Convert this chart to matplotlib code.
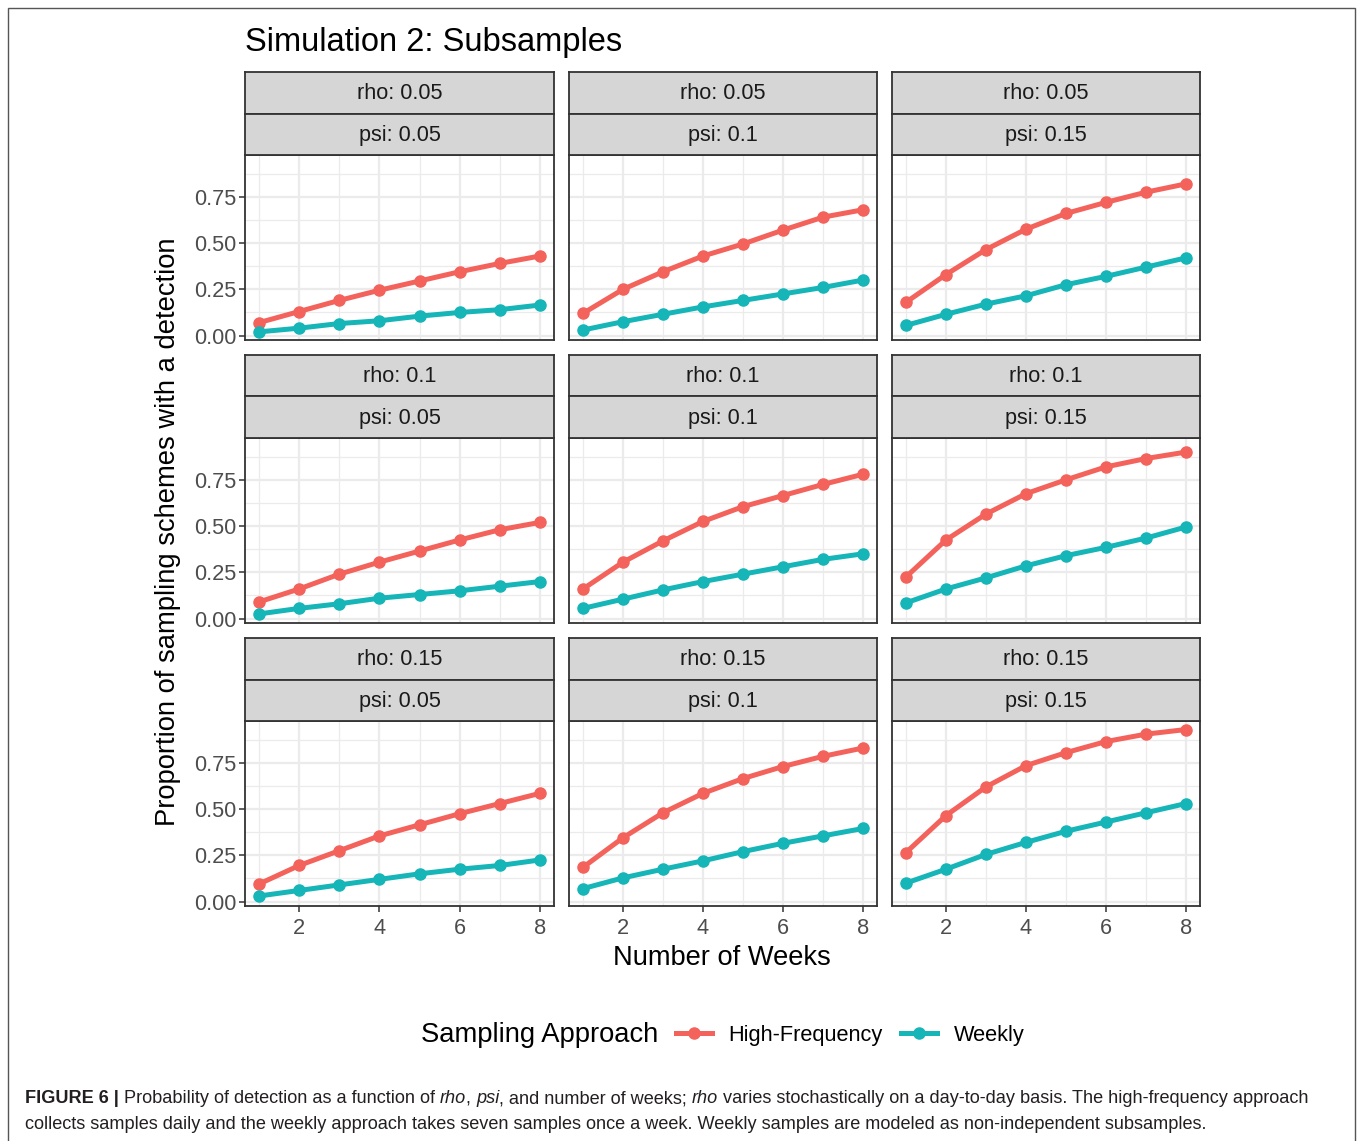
import matplotlib
matplotlib.use("Agg")
import matplotlib.pyplot as plt
from matplotlib.lines import Line2D
from matplotlib.patches import Rectangle

plt.rcParams['font.family'] = ['Liberation Sans', 'DejaVu Sans']

W, H = 1357, 1141

# data
weeks = [1, 2, 3, 4, 5, 6, 7, 8]
rho_levels = ['0.05', '0.1', '0.15']
psi_levels = ['0.05', '0.1', '0.15']

# rows = rho, columns = psi
hf_values = [
    [0.07, 0.13, 0.19, 0.245, 0.295, 0.345, 0.39, 0.43],
    [0.12, 0.25, 0.345, 0.43, 0.495, 0.57, 0.64, 0.68],
    [0.18, 0.33, 0.465, 0.575, 0.66, 0.72, 0.775, 0.82],
    [0.09, 0.16, 0.24, 0.305, 0.365, 0.425, 0.48, 0.52],
    [0.16, 0.305, 0.42, 0.525, 0.605, 0.665, 0.725, 0.78],
    [0.225, 0.425, 0.565, 0.675, 0.75, 0.82, 0.865, 0.9],
    [0.095, 0.195, 0.275, 0.355, 0.415, 0.475, 0.53, 0.585],
    [0.185, 0.345, 0.48, 0.585, 0.665, 0.73, 0.785, 0.83],
    [0.265, 0.465, 0.62, 0.735, 0.805, 0.865, 0.905, 0.93],
]
wk_values = [
    [0.02, 0.04, 0.065, 0.08, 0.105, 0.125, 0.14, 0.165],
    [0.03, 0.075, 0.115, 0.155, 0.19, 0.225, 0.26, 0.3],
    [0.055, 0.115, 0.17, 0.215, 0.275, 0.32, 0.37, 0.42],
    [0.025, 0.055, 0.08, 0.11, 0.13, 0.15, 0.175, 0.2],
    [0.055, 0.105, 0.155, 0.2, 0.24, 0.28, 0.32, 0.35],
    [0.085, 0.16, 0.22, 0.285, 0.34, 0.385, 0.435, 0.495],
    [0.03, 0.06, 0.09, 0.12, 0.15, 0.175, 0.195, 0.225],
    [0.07, 0.128, 0.175, 0.22, 0.27, 0.315, 0.355, 0.395],
    [0.10, 0.175, 0.255, 0.32, 0.38, 0.43, 0.48, 0.53],
]
series_names = ['High-Frequency', 'Weekly']
colors = ['#F4625C', '#15B5B8']

y_ticks = [0.0, 0.25, 0.5, 0.75]
y_ticklabels = ['0.00', '0.25', '0.50', '0.75']
x_ticks = [2, 4, 6, 8]


def box(x0, y0, x1, y1):
    return [x0 / W, 1 - y1 / H, (x1 - x0) / W, (y1 - y0) / H]


fig = plt.figure(figsize=(W / 100, H / 100), dpi=100)

# outer frame
fig.patches.append(Rectangle((8 / W, -0.05), (1355 - 8) / W, 1 - 8 / H + 0.05,
                             transform=fig.transFigure, fill=False,
                             edgecolor='#555555', lw=1.0))

cols = [(245, 554), (569, 877), (892, 1200)]
rows = [(155, 340), (438, 623), (721, 906)]
strip_h = 41.5
dark = '#333333'

for r, (y0, y1) in enumerate(rows):
    for c, (x0, x1) in enumerate(cols):
        k = r * 3 + c
        ax = fig.add_axes(box(x0, y0, x1, y1))
        ax.plot(weeks, hf_values[k], color=colors[0], lw=3.6, marker='o', ms=8, zorder=3)
        ax.plot(weeks, wk_values[k], color=colors[1], lw=3.6, marker='o', ms=8, zorder=3)
        ax.set_xlim(0.65, 8.35)
        ax.set_ylim(-0.024, 0.976)
        ax.set_xticks(x_ticks)
        ax.set_xticks([1, 3, 5, 7], minor=True)
        ax.set_yticks(y_ticks)
        ax.set_yticks([0.125, 0.375, 0.625, 0.875], minor=True)
        ax.grid(which='major', color='#EBEBEB', lw=1.6, zorder=0)
        ax.grid(which='minor', color='#EBEBEB', lw=0.9, zorder=0)
        ax.set_axisbelow(True)
        for s in ax.spines.values():
            s.set_color(dark)
            s.set_linewidth(1.3)
        ax.tick_params(which='minor', length=0)
        ax.tick_params(which='major', length=4.5, width=1.1, color=dark,
                       labelsize=15.7, labelcolor='#4D4D4D', pad=1.5)
        ax.tick_params(axis='x', pad=4.5)
        if c == 0:
            ax.set_yticklabels(y_ticklabels)
        else:
            ax.tick_params(axis='y', length=0, labelleft=False)
        if r == 2:
            ax.set_xticklabels([str(t) for t in x_ticks])
        else:
            ax.tick_params(axis='x', length=0, labelbottom=False)

        # facet strips
        labels = ['rho: ' + rho_levels[r], 'psi: ' + psi_levels[c]]
        for i, lab in enumerate(labels):
            sy0 = y0 - strip_h * (2 - i)
            sax = fig.add_axes(box(x0, sy0, x1, sy0 + strip_h))
            sax.set_facecolor('#D6D6D6')
            sax.set_xticks([])
            sax.set_yticks([])
            for s in sax.spines.values():
                s.set_color(dark)
                s.set_linewidth(1.3)
            sax.text(0.5, 0.48, lab, ha='center', va='center', fontsize=15.6,
                     color='#1A1A1A', transform=sax.transAxes)

fig.text(245 / W, 1 - 51 / H, 'Simulation 2: Subsamples', fontsize=23.5,
         ha='left', va='baseline', color='black')
fig.text(168 / W, 1 - 532 / H, 'Proportion of sampling schemes with a detection',
         rotation=90, ha='center', va='center', fontsize=19.7, color='black')
fig.text(722 / W, 1 - 958 / H, 'Number of Weeks', ha='center', va='center',
         fontsize=19.6, color='black')

# legend
fig.text(421 / W, 1 - 1035 / H, 'Sampling Approach', ha='left', va='center',
         fontsize=19.7, color='black')
handles = [Line2D([], [], color=colors[i], lw=3.6, marker='o', ms=8) for i in range(2)]
fig.legend(handles, series_names, loc='center left',
           bbox_to_anchor=(676 / W, 1 - 1035 / H), ncol=2, frameon=False,
           fontsize=15.7, handlelength=1.65, handletextpad=0.75, columnspacing=0.85,
           borderpad=0, borderaxespad=0)

# caption with mixed styles: place pieces one after another
cap_size = 13.1
cap_color = '#231F20'
pieces1 = [('FIGURE 6 | ', 'normal', 'bold'),
           ('Probability of detection as a function of ', 'normal', 'normal'),
           ('rho', 'italic', 'normal'), (', ', 'normal', 'normal'),
           ('psi', 'italic', 'normal'),
           (', and number of weeks; ', 'normal', 'normal'),
           ('rho', 'italic', 'normal'),
           (' varies stochastically on a day-to-day basis. The high-frequency approach',
            'normal', 'normal')]
line2 = ('collects samples daily and the weekly approach takes seven samples once a week. '
         'Weekly samples are modeled as non-independent subsamples.')

renderer = fig.canvas.get_renderer()
x = 25.0
for txt, style, weight in pieces1:
    t = fig.text(x / W, 1 - 1103 / H, txt, fontsize=cap_size, fontstyle=style,
                 fontweight=weight, color=cap_color, va='baseline', ha='left')
    x += t.get_window_extent(renderer).width

fig.text(25 / W, 1 - 1129 / H, line2, fontsize=cap_size, color=cap_color,
         va='baseline', ha='left')

fig.savefig('out.png', dpi=100)
